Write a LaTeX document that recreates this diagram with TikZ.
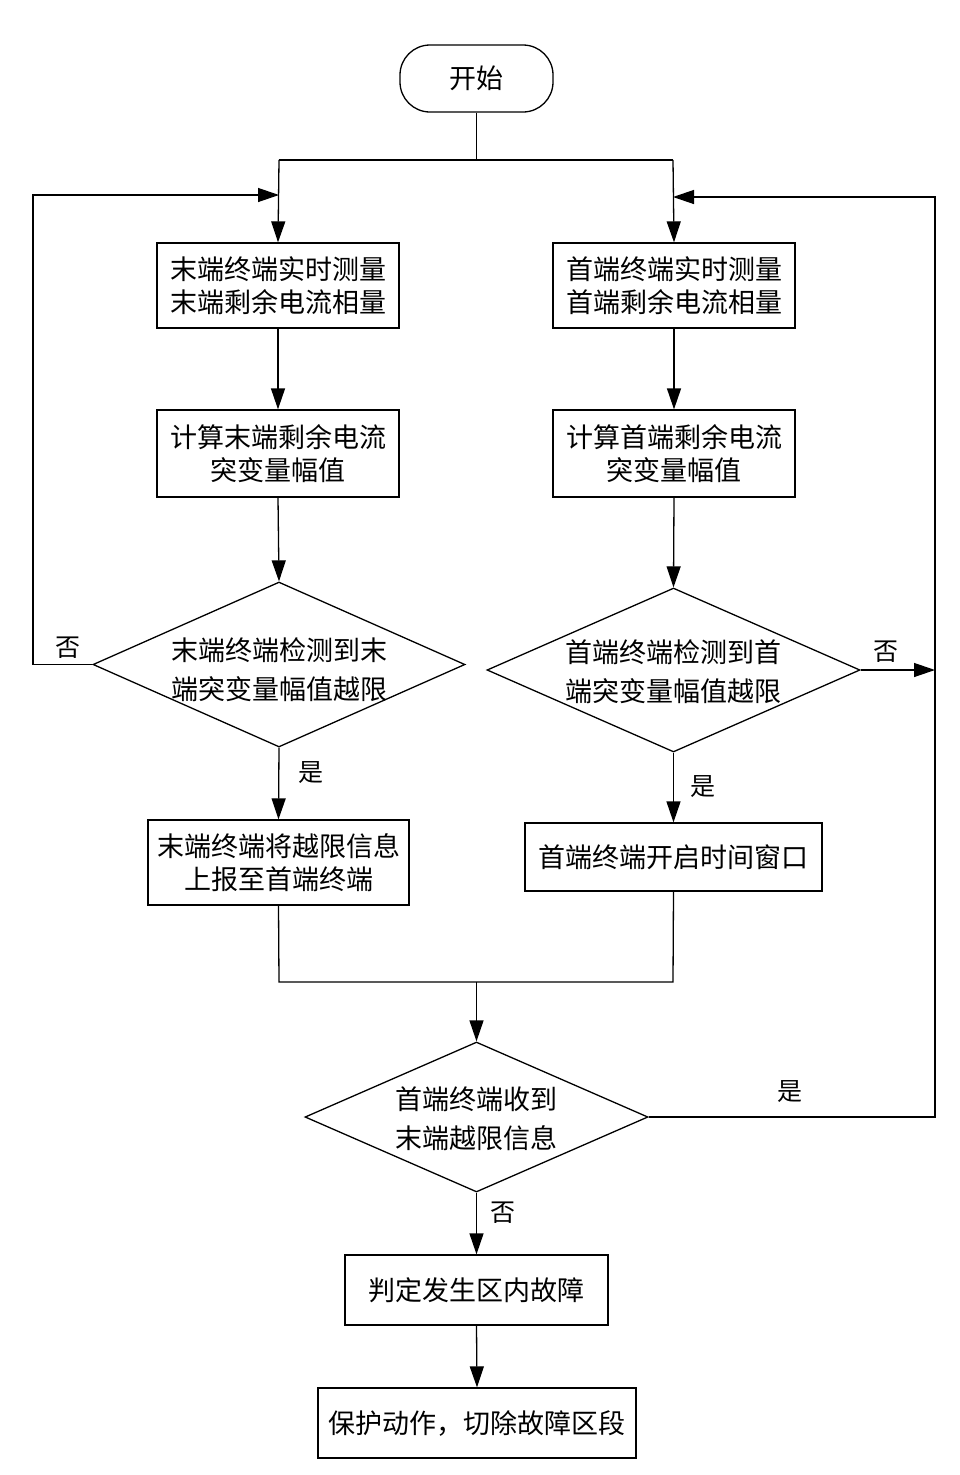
\documentclass[tikz,border=0pt]{standalone}
\usepackage{fontspec}
\setmainfont{Noto Sans CJK SC}
\usetikzlibrary{shapes.geometric,arrows.meta}
\begin{document}
\begin{tikzpicture}[x=1pt,y=-1pt,line width=1.3pt,
  txt/.style={font=\fontsize{27}{33}\selectfont,align=center},
  dtxt/.style={font=\fontsize{27}{39}\selectfont,align=center},
  lab/.style={font=\fontsize{25}{28}\selectfont},
  box/.style={draw,rectangle,inner sep=0pt,txt},
  dia/.style={draw,diamond,inner sep=0pt},
  arr/.style={-{Triangle[length=21pt,width=14pt]}}]
\useasboundingbox (0,0) rectangle (960,1475);
% nodes
\node[draw,rectangle,rounded corners=30pt,minimum width=153pt,minimum height=67pt,txt] (start) at (476.5,78.5) {开始};
\node[box,minimum width=242pt,minimum height=85pt] (b1l) at (278,285.5) {末端终端实时测量\\末端剩余电流相量};
\node[box,minimum width=242pt,minimum height=85pt] (b1r) at (674,285.5) {首端终端实时测量\\首端剩余电流相量};
\node[box,minimum width=242pt,minimum height=87pt] (b2l) at (278,453.5) {计算末端剩余电流\\突变量幅值};
\node[box,minimum width=242pt,minimum height=87pt] (b2r) at (674,453.5) {计算首端剩余电流\\突变量幅值};
\node[dia,minimum width=372pt,minimum height=165pt] (d1) at (279,664.5) {};
\node[dtxt] (d1t) at (279,670) {末端终端检测到末\\端突变量幅值越限};
\node[dia,minimum width=373pt,minimum height=164pt] (d2) at (673.5,670) {};
\node[dtxt] (d2t) at (673.5,672) {首端终端检测到首\\端突变量幅值越限};
\node[box,minimum width=261pt,minimum height=85pt] (b3l) at (278.5,862.5) {末端终端将越限信息\\上报至首端终端};
\node[box,minimum width=297pt,minimum height=68pt] (b3r) at (673.5,857) {首端终端开启时间窗口};
\node[dia,minimum width=343pt,minimum height=150pt] (d3) at (476.5,1117) {};
\node[dtxt] (d3t) at (476.5,1119) {首端终端收到\\末端越限信息};
\node[box,minimum width=263pt,minimum height=70pt] (b4) at (476.5,1290) {判定发生区内故障};
\node[box,minimum width=318pt,minimum height=70pt] (b5) at (477,1423) {保护动作，切除故障区段};
% coordinates
\coordinate (jt) at (476.5,160);
\coordinate (jl) at (279,160);
\coordinate (jr) at (673,160);
\coordinate (ml) at (279,195);
\coordinate (mr) at (673,197);
\coordinate (ol) at (33,664.5);
\coordinate (or) at (935,670);
\coordinate (yr) at (935,1117);
\coordinate (kl) at (279,982);
\coordinate (kr) at (673,982);
\coordinate (km) at (476.5,982);
% connectors
\draw (start.south) -- (jt);
\draw (jl) -- (jr);
\draw[arr] (jl) -- (b1l.north);
\draw[arr] (jr) -- (b1r.north);
\draw[arr] (b1l.south) -- (b2l.north);
\draw[arr] (b1r.south) -- (b2r.north);
\draw[arr] (b2l.south) -- (d1.north);
\draw[arr] (b2r.south) -- (d2.north);
\draw[arr] (d1.west) -- (ol) |- (ml);
\draw[arr] (d2.east) -- (or);
\draw[arr] (d1.south) -- (b3l.north);
\draw[arr] (d2.south) -- (b3r.north);
\draw (b3l.south) -- (kl) -- (kr) -- (b3r.south);
\draw[arr] (km) -- (d3.north);
\draw[arr] (d3.east) -- (yr) |- (mr);
\draw[arr] (d3.south) -- (b4.north);
\draw[arr] (b4.south) -- (b5.north);
% labels
\node[lab] (l1) at (68,648) {否};
\node[lab] (l2) at (886,652) {否};
\node[lab] (l3) at (311,773) {是};
\node[lab] (l4) at (703,787) {是};
\node[lab] (l5) at (790,1092) {是};
\node[lab] (l6) at (503,1213) {否};
\end{tikzpicture}
\end{document}
